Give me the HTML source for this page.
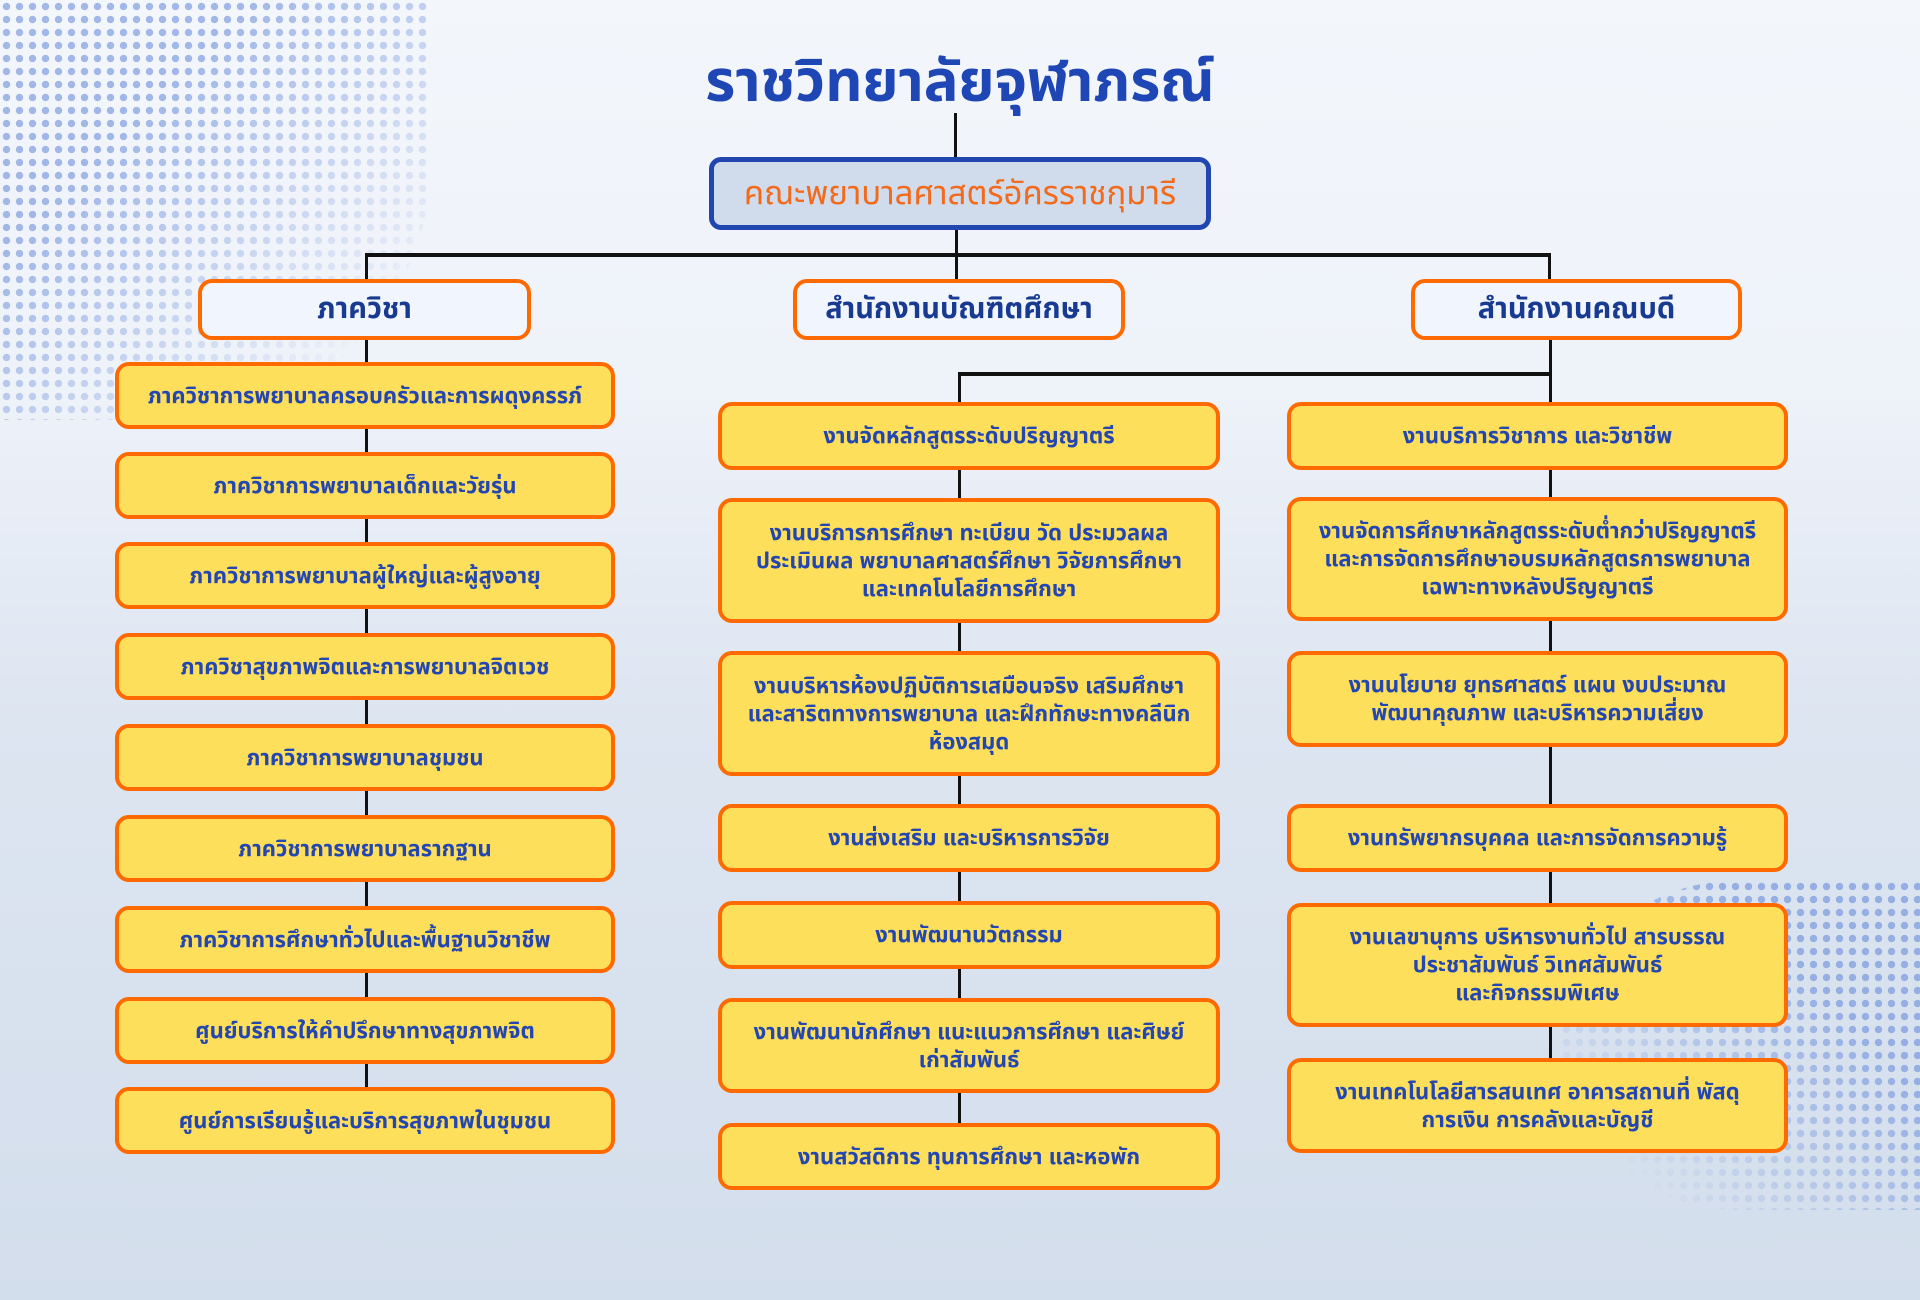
<!DOCTYPE html>
<html><head><meta charset="utf-8"><style>
*{margin:0;padding:0;box-sizing:border-box}
body{width:1920px;height:1300px;overflow:hidden;position:relative;font-family:"Liberation Sans","Noto Sans Thai","Loma","Garuda",sans-serif;
background:linear-gradient(180deg,#f3f6fb 0%,#eef2f9 30%,#dde5f1 55%,#d3deec 100%);}
.dots{position:absolute;background-image:radial-gradient(circle,#7f9ee0 38%,transparent 42%);background-size:13px 13px;}
.ln{position:absolute;background:#111}
.b{position:absolute;display:flex;align-items:center;justify-content:center;text-align:center;color:#2446b0;font-weight:bold;font-size:22px;line-height:28px;background:#fddf5c;border:4px solid #ff6a00;border-radius:14px;padding:0 10px}
.h{position:absolute;display:flex;align-items:center;justify-content:center;background:#f1f5fd;border:4px solid #ff6a00;border-radius:14px;color:#183a90;font-weight:bold;font-size:29px}
</style></head><body>
<div class="dots" style="left:0;top:0;width:430px;height:420px;border-radius:0 0 60% 0;opacity:.7;-webkit-mask-image:linear-gradient(135deg,#000 30%,transparent 85%);mask-image:linear-gradient(135deg,#000 30%,transparent 85%)"></div>
<div class="dots" style="left:1560px;top:880px;width:360px;height:330px;border-radius:50% 0 0 50%;opacity:.75;-webkit-mask-image:linear-gradient(225deg,#000 30%,transparent 85%);mask-image:linear-gradient(225deg,#000 30%,transparent 85%)"></div>
<div style="position:absolute;left:0;top:40px;width:1920px;text-align:center;font-size:58px;font-weight:bold;color:#1e46b4">ราชวิทยาลัยจุฬาภรณ์</div>
<div class="ln" style="left:954px;top:113px;width:3px;height:45px"></div>
<div style="position:absolute;left:709px;top:157px;width:502px;height:73px;background:#d0dcec;border:5px solid #2146b0;border-radius:12px;display:flex;align-items:center;justify-content:center;color:#f26b1d;font-size:33px">คณะพยาบาลศาสตร์อัครราชกุมารี</div>
<div class="ln" style="left:955px;top:230px;width:3px;height:50px"></div>
<div class="ln" style="left:365px;top:253px;width:1186px;height:4px"></div>
<div class="ln" style="left:365px;top:253px;width:3px;height:28px"></div>
<div class="ln" style="left:1548px;top:253px;width:3px;height:28px"></div>
<div class="h" style="left:198px;top:279px;width:333px;height:61px">ภาควิชา</div>
<div class="h" style="left:793px;top:279px;width:332px;height:61px">สำนักงานบัณฑิตศึกษา</div>
<div class="h" style="left:1411px;top:279px;width:331px;height:61px">สำนักงานคณบดี</div>
<div class="ln" style="left:365px;top:340px;width:3px;height:790px"></div>
<div class="ln" style="left:1549px;top:340px;width:3px;height:760px"></div>
<div class="ln" style="left:958px;top:372px;width:594px;height:4px"></div>
<div class="ln" style="left:958px;top:372px;width:3px;height:765px"></div>

<div class="b" style="left:115px;top:362px;width:500px;height:67px">ภาควิชาการพยาบาลครอบครัวและการผดุงครรภ์</div>
<div class="b" style="left:115px;top:452px;width:500px;height:67px">ภาควิชาการพยาบาลเด็กและวัยรุ่น</div>
<div class="b" style="left:115px;top:542px;width:500px;height:67px">ภาควิชาการพยาบาลผู้ใหญ่และผู้สูงอายุ</div>
<div class="b" style="left:115px;top:633px;width:500px;height:67px">ภาควิชาสุขภาพจิตและการพยาบาลจิตเวช</div>
<div class="b" style="left:115px;top:724px;width:500px;height:67px">ภาควิชาการพยาบาลชุมชน</div>
<div class="b" style="left:115px;top:815px;width:500px;height:67px">ภาควิชาการพยาบาลรากฐาน</div>
<div class="b" style="left:115px;top:906px;width:500px;height:67px">ภาควิชาการศึกษาทั่วไปและพื้นฐานวิชาชีพ</div>
<div class="b" style="left:115px;top:997px;width:500px;height:67px">ศูนย์บริการให้คำปรึกษาทางสุขภาพจิต</div>
<div class="b" style="left:115px;top:1087px;width:500px;height:67px">ศูนย์การเรียนรู้และบริการสุขภาพในชุมชน</div>

<div class="b" style="left:718px;top:402px;width:502px;height:68px">งานจัดหลักสูตรระดับปริญญาตรี</div>
<div class="b" style="left:718px;top:498px;width:502px;height:125px">งานบริการการศึกษา ทะเบียน วัด ประมวลผล<br>ประเมินผล พยาบาลศาสตร์ศึกษา วิจัยการศึกษา<br>และเทคโนโลยีการศึกษา</div>
<div class="b" style="left:718px;top:651px;width:502px;height:125px">งานบริหารห้องปฏิบัติการเสมือนจริง เสริมศึกษา<br>และสาริตทางการพยาบาล และฝึกทักษะทางคลีนิก<br>ห้องสมุด</div>
<div class="b" style="left:718px;top:804px;width:502px;height:68px">งานส่งเสริม และบริหารการวิจัย</div>
<div class="b" style="left:718px;top:901px;width:502px;height:68px">งานพัฒนานวัตกรรม</div>
<div class="b" style="left:718px;top:998px;width:502px;height:95px">งานพัฒนานักศึกษา แนะแนวการศึกษา และศิษย์<br>เก่าสัมพันธ์</div>
<div class="b" style="left:718px;top:1123px;width:502px;height:67px">งานสวัสดิการ ทุนการศึกษา และหอพัก</div>

<div class="b" style="left:1287px;top:402px;width:501px;height:68px">งานบริการวิชาการ และวิชาชีพ</div>
<div class="b" style="left:1287px;top:497px;width:501px;height:124px">งานจัดการศึกษาหลักสูตรระดับต่ำกว่าปริญญาตรี<br>และการจัดการศึกษาอบรมหลักสูตรการพยาบาล<br>เฉพาะทางหลังปริญญาตรี</div>
<div class="b" style="left:1287px;top:651px;width:501px;height:96px">งานนโยบาย ยุทธศาสตร์ แผน งบประมาณ<br>พัฒนาคุณภาพ และบริหารความเสี่ยง</div>
<div class="b" style="left:1287px;top:804px;width:501px;height:68px">งานทรัพยากรบุคคล และการจัดการความรู้</div>
<div class="b" style="left:1287px;top:903px;width:501px;height:124px">งานเลขานุการ บริหารงานทั่วไป สารบรรณ<br>ประชาสัมพันธ์ วิเทศสัมพันธ์<br>และกิจกรรมพิเศษ</div>
<div class="b" style="left:1287px;top:1058px;width:501px;height:95px">งานเทคโนโลยีสารสนเทศ อาคารสถานที่ พัสดุ<br>การเงิน การคลังและบัญชี</div>
</body></html>
